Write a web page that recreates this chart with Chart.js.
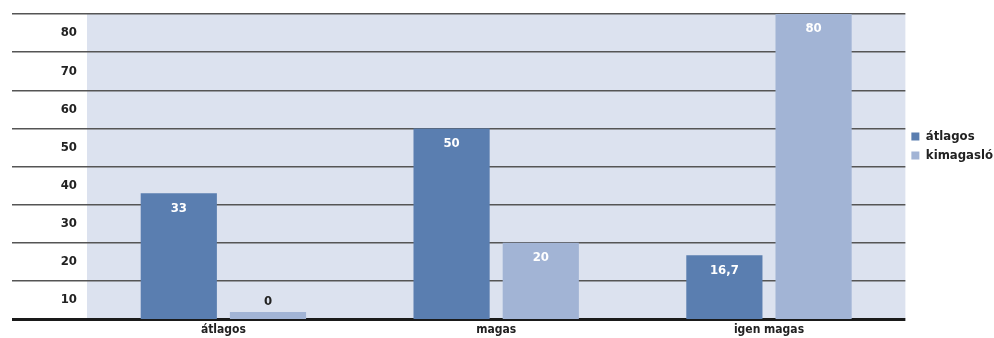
<!DOCTYPE html>
<html>
<head>
<meta charset="utf-8">
<script src="https://cdn.jsdelivr.net/npm/chart.js@4.4.1/dist/chart.umd.min.js"></script>
<style>
  html, body { margin: 0; padding: 0; background: #fff; }
  #wrap { width: 994px; height: 338px; }
</style>
</head>
<body>
<div id="wrap"><canvas id="chart"></canvas></div>
<script>
const categories = ['átlagos', 'magas', 'igen magas'];
const seriesNames = ['átlagos', 'kimagasló'];
const atlagosValues = [33, 50, 16.7];
const kimagasloValues = [0, 20, 80];
const tickLabels = ['10', '20', '30', '40', '50', '60', '70', '80'];
const tickPositions = [5, 15, 25, 35, 45, 55, 65, 75]; // labels sit in the middle of each band

const FONT = '"DejaVu Sans Condensed", "Liberation Sans Narrow", sans-serif';
const TEXT = '#222';

// light blue panel behind the plot area
const plotBg = {
    id: 'plotBg',
    beforeDraw(chart) {
        const { ctx, chartArea: a } = chart;
        ctx.save();
        ctx.fillStyle = '#dce2ef';
        ctx.fillRect(a.left, a.top, a.right - a.left, a.bottom - a.top);
        ctx.restore();
    }
};

// value labels on the bars
const barValues = {
    id: 'barValues',
    afterDatasetsDraw(chart) {
        const ctx = chart.ctx;
        ctx.save();
        ctx.font = 'bold 13px ' + FONT;
        ctx.textAlign = 'center';
        ctx.textBaseline = 'middle';
        chart.data.datasets.forEach((ds, di) => {
            chart.getDatasetMeta(di).data.forEach((bar, i) => {
                const v = ds.data[i];
                const txt = String(v).replace('.', ',');
                if (v === 0) {
                    ctx.fillStyle = TEXT;
                    ctx.fillText(txt, bar.x, bar.y - 10);
                } else {
                    ctx.fillStyle = '#fff';
                    ctx.fillText(txt, bar.x, bar.y + 15);
                }
            });
        });
        ctx.restore();
    }
};

const ctx = document.getElementById('chart').getContext('2d');
new Chart(ctx, {
    type: 'bar',
    data: {
        labels: categories,
        datasets: [
            { label: seriesNames[0], data: atlagosValues, backgroundColor: '#5a7eb0' },
            { label: seriesNames[1], data: kimagasloValues, backgroundColor: '#a2b4d5' }
        ]
    },
    options: {
        responsive: true,
        maintainAspectRatio: false,
        animation: false,
        datasets: {
            bar: { categoryPercentage: 0.654, barPercentage: 0.854, minBarLength: 7 }
        },
        layout: { padding: { left: 12, top: 14, right: -9, bottom: 0 } },
        plugins: {
            tooltip: { enabled: false },
            legend: {
                position: 'right',
                align: 'start',
                title: { display: true, text: ' ', padding: { top: 98, bottom: 0 }, font: { size: 10 } },
                labels: {
                    boxWidth: 8,
                    boxHeight: 8,
                    padding: 6,
                    color: TEXT,
                    font: { family: FONT, size: 13, weight: 'bold' }
                }
            }
        },
        scales: {
            x: {
                afterFit: s => { s.height = 19; },
                grid: { display: false, drawTicks: false },
                border: { display: false },
                ticks: { color: TEXT, padding: 4, font: { family: FONT, size: 12, weight: 'bold' } }
            },
            y: {
                min: 0,
                max: 80,
                afterBuildTicks: s => { s.ticks = tickPositions.map(v => ({ value: v })); },
                afterFit: s => { s.width = 75; },
                border: { display: false },
                grid: {
                    offset: true,
                    tickLength: 75,
                    color: c => c.index === 0 ? '#1a1a1a' : (c.index === 8 ? '#8c8c8c' : '#555'),
                    lineWidth: c => c.index === 0 ? 3 : (c.index === 8 ? 2 : 1.5)
                },
                ticks: {
                    padding: -65,
                    color: TEXT,
                    font: { family: FONT, size: 13, weight: 'bold' },
                    callback: (v, i) => tickLabels[i]
                }
            }
        }
    },
    plugins: [plotBg, barValues]
});
</script>
</body>
</html>
